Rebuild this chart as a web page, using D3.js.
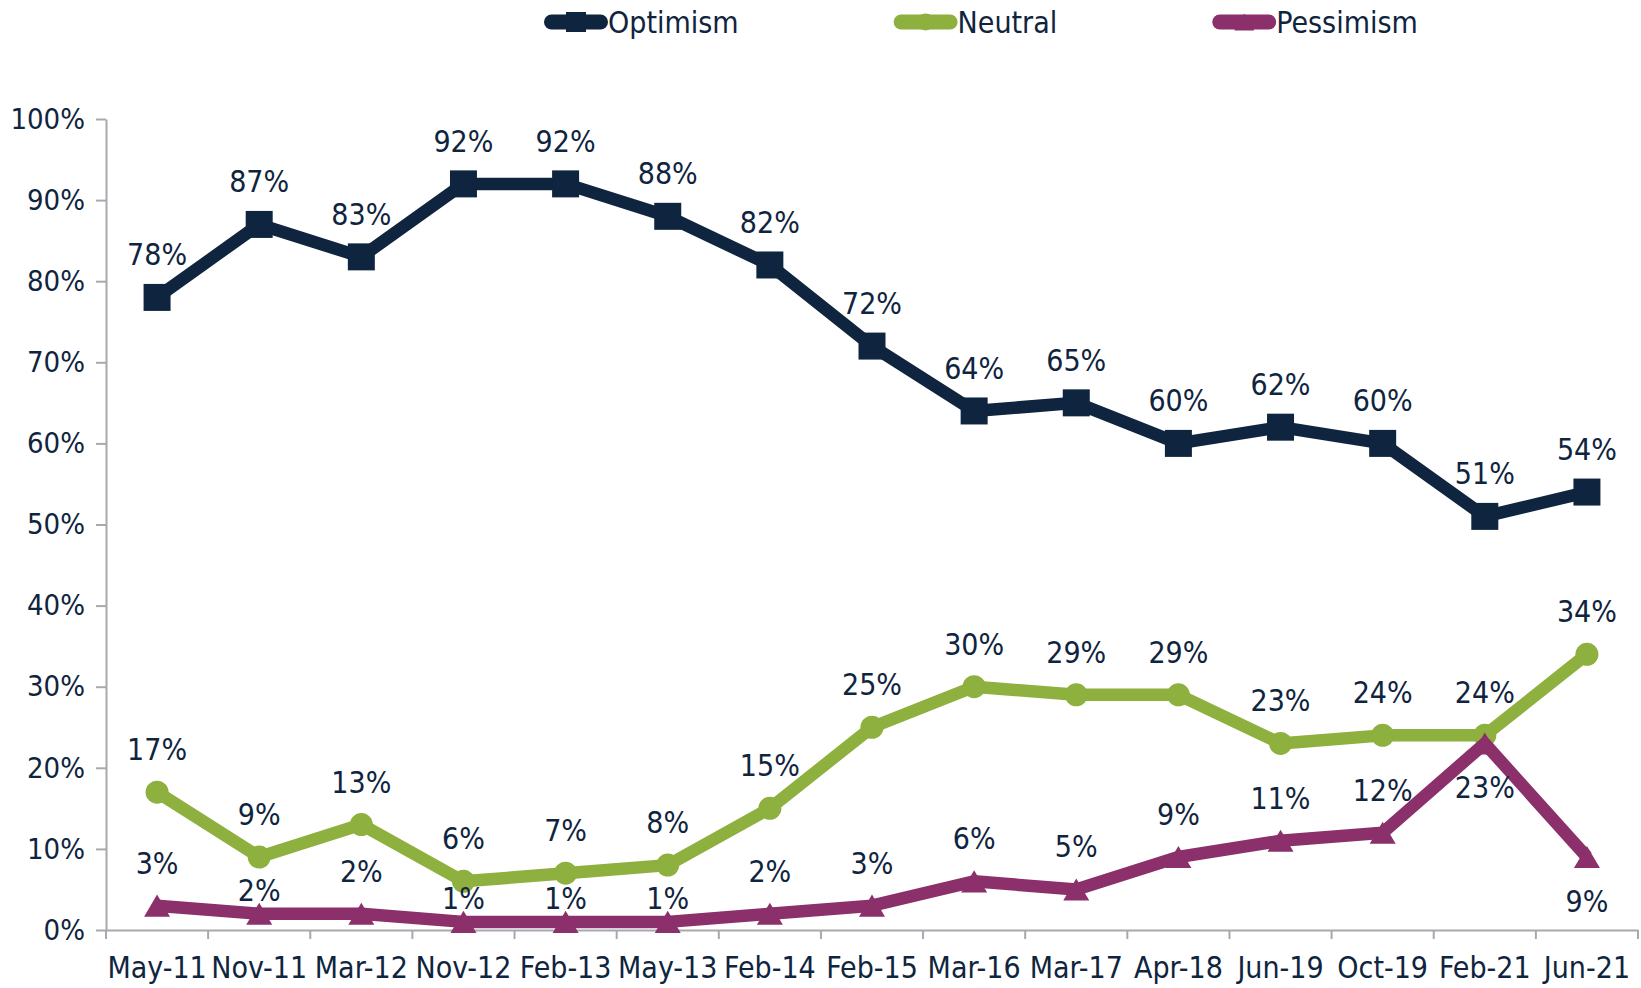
<!DOCTYPE html>
<html>
<head>
<meta charset="utf-8">
<script src="https://cdn.jsdelivr.net/npm/d3@7"></script>
<style>
  body { margin: 0; background: #fff; }
  text { font-family: "DejaVu Sans Condensed", "DejaVu Sans", sans-serif; fill: #0f243e; }
</style>
</head>
<body>
<script>

var categories = ["May-11", "Nov-11", "Mar-12", "Nov-12", "Feb-13", "May-13", "Feb-14", "Feb-15",
                  "Mar-16", "Mar-17", "Apr-18", "Jun-19", "Oct-19", "Feb-21", "Jun-21"];

var optimism  = [78, 87, 83, 92, 92, 88, 82, 72, 64, 65, 60, 62, 60, 51, 54];
var neutral   = [17, 9, 13, 6, 7, 8, 15, 25, 30, 29, 29, 23, 24, 24, 34];
var pessimism = [3, 2, 2, 1, 1, 1, 2, 3, 6, 5, 9, 11, 12, 23, 9];

var seriesNames = ["Optimism", "Neutral", "Pessimism"];
var yTicks = [0, 10, 20, 30, 40, 50, 60, 70, 80, 90, 100];

// where each data label sits relative to its point
var optimismLabelPos  = categories.map(function() { return "above"; });
var neutralLabelPos   = categories.map(function() { return "above"; });
var pessimismLabelPos = ["above", "tight", "above", "tight", "tight", "tight", "above", "above",
                         "above", "above", "above", "above", "above", "below", "below"];

var width = 1641, height = 988;
var plot = {left: 106, right: 1638, top: 119, bottom: 930};

var colors = {Optimism: "#0f243e", Neutral: "#8db03e", Pessimism: "#8b306b"};
var axisColor = "#a6a9ad";

// excel style triangle, centred on its bounding box
var triangle = {
  draw: function(context, size) {
    var w = Math.sqrt(size), h = w * 0.85;
    context.moveTo(0, -h / 2);
    context.lineTo(w / 2, h / 2);
    context.lineTo(-w / 2, h / 2);
    context.closePath();
  }
};

var series = [
  {name: "Optimism",  values: optimism,  labelPos: optimismLabelPos,  symbol: d3.symbolSquare, size: 27 * 27, legendSize: 20 * 20},
  {name: "Neutral",   values: neutral,   labelPos: neutralLabelPos,   symbol: d3.symbolCircle, size: Math.PI * 11.5 * 11.5, legendSize: Math.PI * 8.5 * 8.5},
  {name: "Pessimism", values: pessimism, labelPos: pessimismLabelPos, symbol: triangle,        size: 26 * 26, legendSize: 20 * 20}
];

var x = d3.scaleBand().domain(categories).range([plot.left, plot.right]).padding(0);
var y = d3.scaleLinear().domain([0, 100]).range([plot.bottom, plot.top]);

var svg = d3.select("body").append("svg")
    .attr("width", width)
    .attr("height", height);

svg.append("rect").attr("width", width).attr("height", height).attr("fill", "#fff");

// y axis
var yAxis = svg.append("g")
    .attr("transform", "translate(" + plot.left + ",0)")
    .call(d3.axisLeft(y).tickValues(yTicks).tickSize(10).tickSizeOuter(0).tickPadding(11)
      .tickFormat(function(d) { return d + "%"; }));
yAxis.selectAll("path, line").attr("stroke", axisColor).attr("stroke-width", 2);
yAxis.selectAll("text").attr("font-size", "29px").attr("fill", "#0f243e")
    .style("font-family", '"DejaVu Sans Condensed", sans-serif');

// x axis: labels from the band scale, ticks on the band edges
var xAxis = svg.append("g")
    .attr("transform", "translate(0," + plot.bottom + ")")
    .call(d3.axisBottom(x).tickSize(0).tickPadding(27));
xAxis.select(".domain").attr("stroke", axisColor).attr("stroke-width", 2);
xAxis.selectAll("text").attr("font-size", "30px").attr("fill", "#0f243e")
    .style("font-family", '"DejaVu Sans Condensed", sans-serif');

var edges = categories.map(function(c) { return x(c); }).concat([x(categories[categories.length - 1]) + x.bandwidth()]);
xAxis.selectAll(".edge")
    .data(edges)
  .enter().append("line")
    .attr("x1", function(d) { return d; })
    .attr("x2", function(d) { return d; })
    .attr("y1", 0)
    .attr("y2", 9)
    .attr("stroke", axisColor)
    .attr("stroke-width", 2);

var cx = function(d, i) { return x(categories[i]) + x.bandwidth() / 2; };

var line = d3.line()
    .x(function(d, i) { return cx(d, i); })
    .y(function(d) { return y(d); });

// lines and markers
series.forEach(function(s) {
  svg.append("path")
      .datum(s.values)
      .attr("d", line)
      .attr("fill", "none")
      .attr("stroke", colors[s.name])
      .attr("stroke-width", 12.5)
      .attr("stroke-linejoin", "round");

  svg.selectAll(".mark-" + s.name)
      .data(s.values)
    .enter().append("path")
      .attr("class", "mark-" + s.name)
      .attr("d", d3.symbol().type(s.symbol).size(s.size))
      .attr("transform", function(d, i) { return "translate(" + cx(d, i) + "," + y(d) + ")"; })
      .attr("fill", colors[s.name]);
});

// data labels on top of everything
var labelOffset = {above: -32, tight: -13, below: 55};
series.forEach(function(s) {
  svg.selectAll(".label-" + s.name)
      .data(s.values)
    .enter().append("text")
      .attr("class", "label-" + s.name)
      .attr("x", function(d, i) { return cx(d, i); })
      .attr("y", function(d, i) { return y(d) + labelOffset[s.labelPos[i]]; })
      .attr("text-anchor", "middle")
      .attr("font-size", "30px")
      .text(function(d) { return d + "%"; });
});

// legend
var legend = svg.append("g");
var lx = 544;
series.forEach(function(s) {
  var g = legend.append("g").attr("transform", "translate(" + lx + ",22)");
  g.append("line")
      .attr("x1", 7.5).attr("x2", 56.5)
      .attr("y1", 0).attr("y2", 0)
      .attr("stroke", colors[s.name])
      .attr("stroke-width", 15)
      .attr("stroke-linecap", "round");
  g.append("path")
      .attr("d", d3.symbol().type(s.symbol).size(s.legendSize))
      .attr("transform", "translate(32,0)")
      .attr("fill", colors[s.name]);
  var t = g.append("text")
      .attr("x", 64)
      .attr("y", 11)
      .attr("font-size", "30px")
      .text(s.name);
  lx += 64 + t.node().getComputedTextLength() + 155;
});

</script>
</body>
</html>
